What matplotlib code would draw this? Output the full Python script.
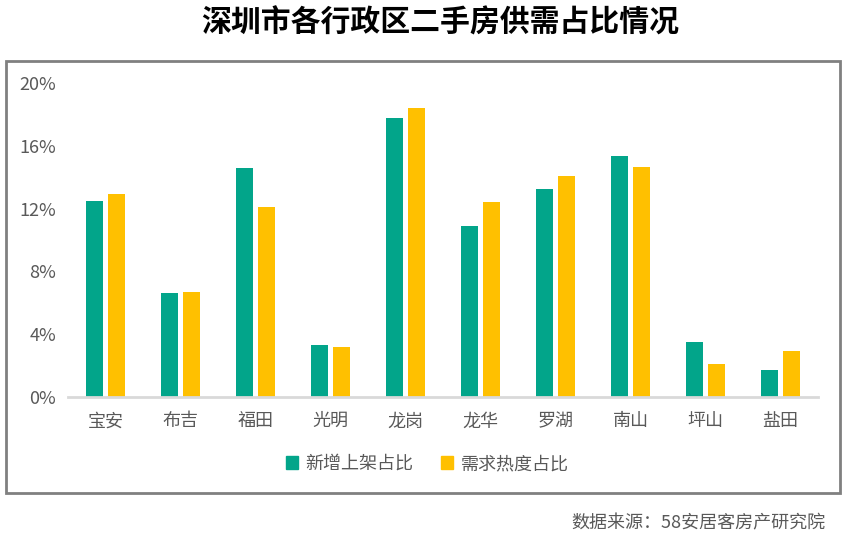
import numpy as np
import matplotlib
matplotlib.use('Agg')
import matplotlib.pyplot as plt
from matplotlib.patches import Rectangle, Patch
from matplotlib.ticker import FuncFormatter

plt.rcParams['font.family'] = ['Noto Sans CJK SC', 'DejaVu Sans']

districts = ['宝安', '布吉', '福田', '光明', '龙岗', '龙华', '罗湖', '南山', '坪山', '盐田']
supply = [12.5, 6.6, 14.6, 3.3, 17.8, 10.9, 13.25, 15.35, 3.5, 1.7]
demand = [12.9, 6.7, 12.1, 3.2, 18.4, 12.4, 14.1, 14.65, 2.1, 2.9]
series_names = ['新增上架占比', '需求热度占比']
yticks = [0, 4, 8, 12, 16, 20]

green = '#02A58A'
yellow = '#FFC000'
grey_text = '#595959'

W, H = 854, 548
fig = plt.figure(figsize=(W / 100, H / 100), dpi=100)
ax = fig.add_axes([68 / W, 1 - 397 / H, 750 / W, 314 / H])

x = np.arange(len(districts))
bw = 0.222
off = 0.145
ax.bar(x - off, supply, bw, color=green, zorder=2)
ax.bar(x + off, demand, bw, color=yellow, zorder=2)

ax.set_xlim(-0.5, len(districts) - 0.5)
ax.set_ylim(0, 20)
ax.set_yticks(yticks)
ax.yaxis.set_major_formatter(FuncFormatter(lambda v, p: '%d%%' % v))
ax.set_xticks(x)
ax.set_xticklabels(districts)
ax.tick_params(axis='both', length=0, labelsize=13, colors=grey_text)
ax.tick_params(axis='x', pad=11)
ax.tick_params(axis='y', pad=8.5)
for s in ['top', 'right', 'left']:
    ax.spines[s].set_visible(False)
ax.spines['bottom'].set_color('#D9D9D9')
ax.spines['bottom'].set_linewidth(2)
ax.spines['bottom'].set_zorder(3)

# outer frame
fig.patches.append(Rectangle((6 / W, 1 - 493 / H), 834 / W, 432 / H, transform=fig.transFigure,
                             fill=False, edgecolor='#808080', linewidth=2))

fig.text(440 / W, 1 - 23 / H, '深圳市各行政区二手房供需占比情况', ha='center', va='center',
         fontsize=21.5, fontweight='bold', color='black')

handles = [Patch(color=green, label=series_names[0]), Patch(color=yellow, label=series_names[1])]
leg = fig.legend(handles=handles, loc='center', bbox_to_anchor=(427 / W, 1 - 464 / H), ncol=2,
                 frameon=False, fontsize=13, handlelength=0.7, handleheight=0.7,
                 handletextpad=0.4, columnspacing=1.5)
for t in leg.get_texts():
    t.set_color(grey_text)

fig.text(825 / W, 1 - 523 / H, '数据来源：58安居客房产研究院', ha='right', va='center',
         fontsize=13, color=grey_text)

fig.savefig('out.png', dpi=100)
